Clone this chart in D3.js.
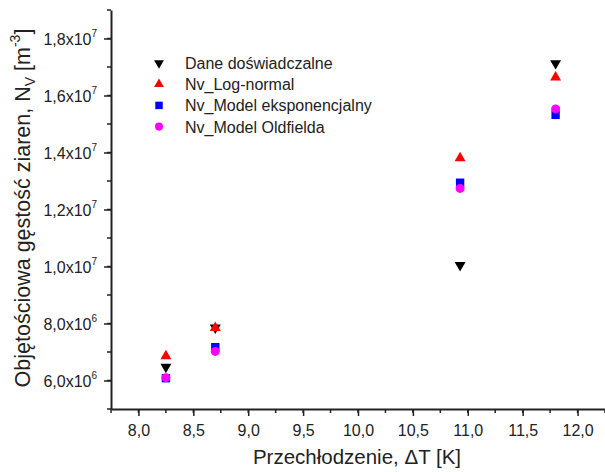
<!DOCTYPE html>
<html>
<head>
<meta charset="utf-8">
<script src="https://cdn.jsdelivr.net/npm/d3@7"></script>
<style>
  body { margin: 0; background: #fff; }
  text { font-family: "Liberation Sans", Arial, sans-serif; fill: #222; }
</style>
</head>
<body>
<div id="chart"></div>
<script>
var deltaT = [8.25, 8.70, 10.93, 11.80];
var daneDoswiadczalne = [6.48e6, 7.85e6, 1.005e7, 1.713e7];
var nvLogNormal = [6.86e6, 7.85e6, 1.38e7, 1.664e7];
var nvEksponencjalny = [6.08e6, 7.17e6, 1.294e7, 1.532e7];
var nvOldfielda = [6.10e6, 7.02e6, 1.274e7, 1.553e7];
var xTicks = [8.0, 8.5, 9.0, 9.5, 10.0, 10.5, 11.0, 11.5, 12.0];
var yTicks = [6e6, 8e6, 1e7, 1.2e7, 1.4e7, 1.6e7, 1.8e7];

var series = [
  {name: 'Dane doświadczalne', vals: daneDoswiadczalne, color: '#000000', sym: d3.symbolTriangle, rot: 180, size: 52},
  {name: 'Nv_Log-normal', vals: nvLogNormal, color: '#ff0000', sym: d3.symbolTriangle, rot: 0, size: 52},
  {name: 'Nv_Model eksponencjalny', vals: nvEksponencjalny, color: '#0000ff', sym: d3.symbolSquare, rot: 0, size: 70},
  {name: 'Nv_Model Oldfielda', vals: nvOldfielda, color: '#ff00ff', sym: d3.symbolCircle, rot: 0, size: 64}
];

var w = 605, h = 472;
var svg = d3.select('#chart').append('svg').attr('width', w).attr('height', h);

var x = d3.scaleLinear().domain([7.75, 12.25]).range([111, 605]);
var y = d3.scaleLinear().domain([5e6, 1.9e7]).range([409, 10]);

// minor ticks
var xMinor = d3.range(7.75, 12.26, 0.25);
var yMinor = d3.range(5e6, 1.9e7 + 1, 1e6);

svg.append('g').selectAll('line').data(xMinor).enter().append('line')
  .attr('x1', d => x(d)).attr('x2', d => x(d))
  .attr('y1', 409).attr('y2', 413)
  .attr('stroke', '#222').attr('stroke-width', 1.5);
svg.append('g').selectAll('line').data(yMinor).enter().append('line')
  .attr('y1', d => y(d)).attr('y2', d => y(d))
  .attr('x1', 107).attr('x2', 111)
  .attr('stroke', '#222').attr('stroke-width', 1.5);

// x axis
var xAxis = svg.append('g').attr('transform', 'translate(0,409)')
  .call(d3.axisBottom(x).tickValues(xTicks).tickSize(7).tickSizeOuter(0)
    .tickFormat(d => d3.format('.1f')(d).replace('.', ',')));
xAxis.select('.domain').attr('stroke', '#222').attr('stroke-width', 2);
xAxis.selectAll('.tick line').attr('stroke', '#222').attr('stroke-width', 1.5);
xAxis.selectAll('.tick text').attr('font-size', 16).attr('dy', null).attr('y', 27)
  .style('font-family', '"Liberation Sans", Arial, sans-serif').attr('fill', '#222');

// y axis
var yAxis = svg.append('g').attr('transform', 'translate(111,0)')
  .call(d3.axisLeft(y).tickValues(yTicks).tickSize(7).tickSizeOuter(0).tickFormat(''));
yAxis.select('.domain').attr('stroke', '#222').attr('stroke-width', 2);
yAxis.selectAll('.tick line').attr('stroke', '#222').attr('stroke-width', 1.5);
yAxis.selectAll('.tick').each(function(d) {
  var e = Math.floor(Math.log10(d) + 1e-9);
  var m = (d / Math.pow(10, e)).toFixed(1).replace('.', ',');
  var t = d3.select(this).append('text')
    .attr('x', -14).attr('y', 6).attr('text-anchor', 'end')
    .attr('font-size', 16).attr('fill', '#222')
    .style('font-family', '"Liberation Sans", Arial, sans-serif');
  t.append('tspan').text(m + 'x10');
  t.append('tspan').attr('font-size', 10).attr('dy', -8).text(e);
});

// points
series.forEach(function(s) {
  svg.append('g').selectAll('path').data(s.vals).enter().append('path')
    .attr('d', d3.symbol().type(s.sym).size(s.size))
    .attr('transform', (d, i) => 'translate(' + x(deltaT[i]) + ',' + y(d) + ') rotate(' + s.rot + ')')
    .attr('fill', s.color);
});

// legend
var leg = svg.append('g');
series.forEach(function(s, i) {
  var cy = 63 + i * 21.2;
  leg.append('path')
    .attr('d', d3.symbol().type(s.sym).size(s.size * 0.8))
    .attr('transform', 'translate(159,' + cy + ') rotate(' + s.rot + ')')
    .attr('fill', s.color);
  leg.append('text').attr('x', 185).attr('y', cy + 6)
    .attr('font-size', 16).text(s.name);
});

// axis titles
svg.append('text').attr('x', 357).attr('y', 464).attr('text-anchor', 'middle')
  .attr('font-size', 20.5).text('Przechłodzenie, ΔT [K]');

var yt = svg.append('text').attr('transform', 'translate(30,208) rotate(-90)')
  .attr('text-anchor', 'middle').attr('font-size', 21.5);
yt.append('tspan').text('Objętościowa gęstość ziaren, N');
yt.append('tspan').attr('font-size', 14).attr('dy', 5).text('V');
yt.append('tspan').attr('dy', -5).text(' [m');
yt.append('tspan').attr('font-size', 14).attr('dy', -10).text('-3');
yt.append('tspan').attr('dy', 10).text(']');
</script>
</body>
</html>
